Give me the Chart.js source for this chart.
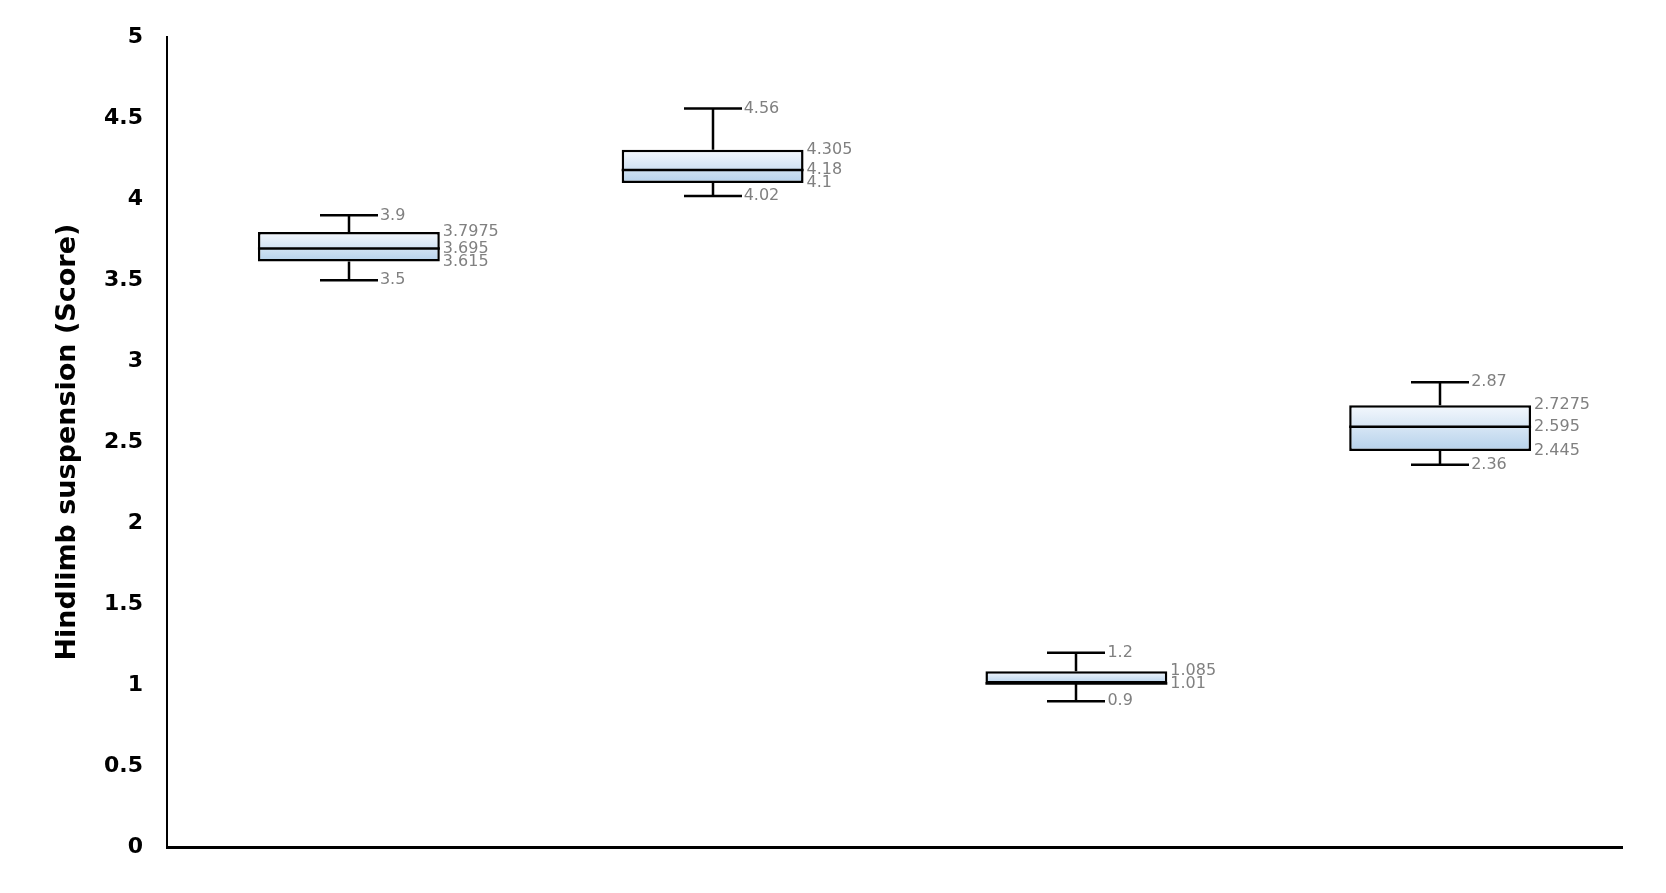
<!DOCTYPE html>
<html>
<head>
<meta charset="utf-8">
<script src="https://cdn.jsdelivr.net/npm/chart.js@4"></script>
<style>
  html, body { margin: 0; padding: 0; background: #fff; }
  #wrap { width: 1666px; height: 893px; }
</style>
</head>
<body>
<div id="wrap"><canvas id="boxChart"></canvas></div>
<script>
// box plot values, one entry per group
var groups   = ['Group 1', 'Group 2', 'Group 3', 'Group 4'];
var minVals  = [3.5, 4.02, 0.9, 2.36];
var q1Vals   = [3.615, 4.1, 1.01, 2.445];
var medVals  = [3.695, 4.18, 1.01, 2.595];
var q3Vals   = [3.7975, 4.305, 1.085, 2.7275];
var maxVals  = [3.9, 4.56, 1.2, 2.87];
var yTicks   = [0, 0.5, 1, 1.5, 2, 2.5, 3, 3.5, 4, 4.5, 5];

var boxes = groups.map(function(g, i) { return [q1Vals[i], q3Vals[i]]; });

function boxFill(context) {
    var chart = context.chart;
    if (!chart.chartArea || !context.raw) return '#cfe1f3';
    var y = chart.scales.y;
    var top = y.getPixelForValue(context.raw[1]);
    var bottom = y.getPixelForValue(context.raw[0]);
    var grad = chart.ctx.createLinearGradient(0, top, 0, bottom);
    grad.addColorStop(0, '#f4f8fd');
    grad.addColorStop(1, '#b5d1eb');
    return grad;
}

function fmt(v) { return String(v); }

var whiskerPlugin = {
    id: 'whiskers',
    beforeDatasetsDraw: function(chart) {
        var ctx = chart.ctx;
        var x = chart.scales.x, y = chart.scales.y;
        var capHalf = 29;
        ctx.save();
        ctx.strokeStyle = '#000';
        ctx.lineWidth = 2.5;
        groups.forEach(function(g, i) {
            var cx = Math.round(x.getPixelForValue(i));
            ctx.beginPath();
            ctx.moveTo(cx, y.getPixelForValue(q3Vals[i]));
            ctx.lineTo(cx, y.getPixelForValue(maxVals[i]));
            ctx.moveTo(cx - capHalf, y.getPixelForValue(maxVals[i]));
            ctx.lineTo(cx + capHalf, y.getPixelForValue(maxVals[i]));
            ctx.moveTo(cx, y.getPixelForValue(q1Vals[i]));
            ctx.lineTo(cx, y.getPixelForValue(minVals[i]));
            ctx.moveTo(cx - capHalf, y.getPixelForValue(minVals[i]));
            ctx.lineTo(cx + capHalf, y.getPixelForValue(minVals[i]));
            ctx.stroke();
        });
        ctx.restore();
    },
    afterDatasetsDraw: function(chart) {
        var ctx = chart.ctx;
        var x = chart.scales.x, y = chart.scales.y;
        var meta = chart.getDatasetMeta(0);
        var capHalf = 29;
        ctx.save();
        ctx.strokeStyle = '#000';
        ctx.lineWidth = 2.5;
        meta.data.forEach(function(bar, i) {
            var half = bar.width / 2;
            var my = y.getPixelForValue(medVals[i]);
            ctx.beginPath();
            ctx.moveTo(bar.x - half, my);
            ctx.lineTo(bar.x + half, my);
            ctx.stroke();
        });
        ctx.fillStyle = '#808080';
        ctx.font = '16px "DejaVu Sans"';
        ctx.textAlign = 'left';
        ctx.textBaseline = 'middle';
        meta.data.forEach(function(bar, i) {
            var cx = x.getPixelForValue(i);
            var bx = bar.x + bar.width / 2 + 3;
            ctx.fillText(fmt(maxVals[i]), cx + capHalf + 2, y.getPixelForValue(maxVals[i]));
            ctx.fillText(fmt(minVals[i]), cx + capHalf + 2, y.getPixelForValue(minVals[i]));
            ctx.fillText(fmt(q3Vals[i]), bx, y.getPixelForValue(q3Vals[i]));
            if (medVals[i] !== q1Vals[i]) {
                ctx.fillText(fmt(medVals[i]), bx, y.getPixelForValue(medVals[i]));
            }
            ctx.fillText(fmt(q1Vals[i]), bx, y.getPixelForValue(q1Vals[i]));
        });
        ctx.restore();
    }
};

var chart = new Chart(document.getElementById('boxChart'), {
    type: 'bar',
    data: {
        labels: groups,
        datasets: [{
            label: 'Hindlimb suspension',
            data: boxes,
            backgroundColor: boxFill,
            borderColor: '#000',
            borderWidth: 2.5,
            borderSkipped: false,
            barPercentage: 0.5,
            categoryPercentage: 1
        }]
    },
    options: {
        responsive: true,
        maintainAspectRatio: false,
        animation: false,
        layout: { padding: { left: 0, right: 44, top: 34, bottom: 46 } },
        plugins: {
            legend: { display: false },
            tooltip: { enabled: false }
        },
        scales: {
            x: {
                grid: { display: false, drawTicks: false },
                border: { display: true, color: '#000', width: 3 },
                ticks: { display: false },
                afterFit: function(scale) { scale.height = 0; }
            },
            y: {
                min: 0,
                max: 5,
                afterBuildTicks: function(scale) {
                    scale.ticks = yTicks.map(function(v) { return { value: v }; });
                },
                grid: { display: false, drawTicks: false },
                border: { display: true, color: '#000', width: 2 },
                ticks: {
                    color: '#000',
                    padding: 24,
                    font: { family: '"DejaVu Sans"', size: 22, weight: 'bold' },
                    callback: function(value) { return String(value); }
                },
                title: {
                    display: true,
                    text: 'Hindlimb suspension (Score)',
                    color: '#000',
                    font: { family: '"DejaVu Sans"', size: 27, weight: 'bold' },
                    padding: { top: 52, bottom: 0 }
                },
                afterFit: function(scale) { scale.width = 167; }
            }
        }
    },
    plugins: [whiskerPlugin]
});
</script>
</body>
</html>
